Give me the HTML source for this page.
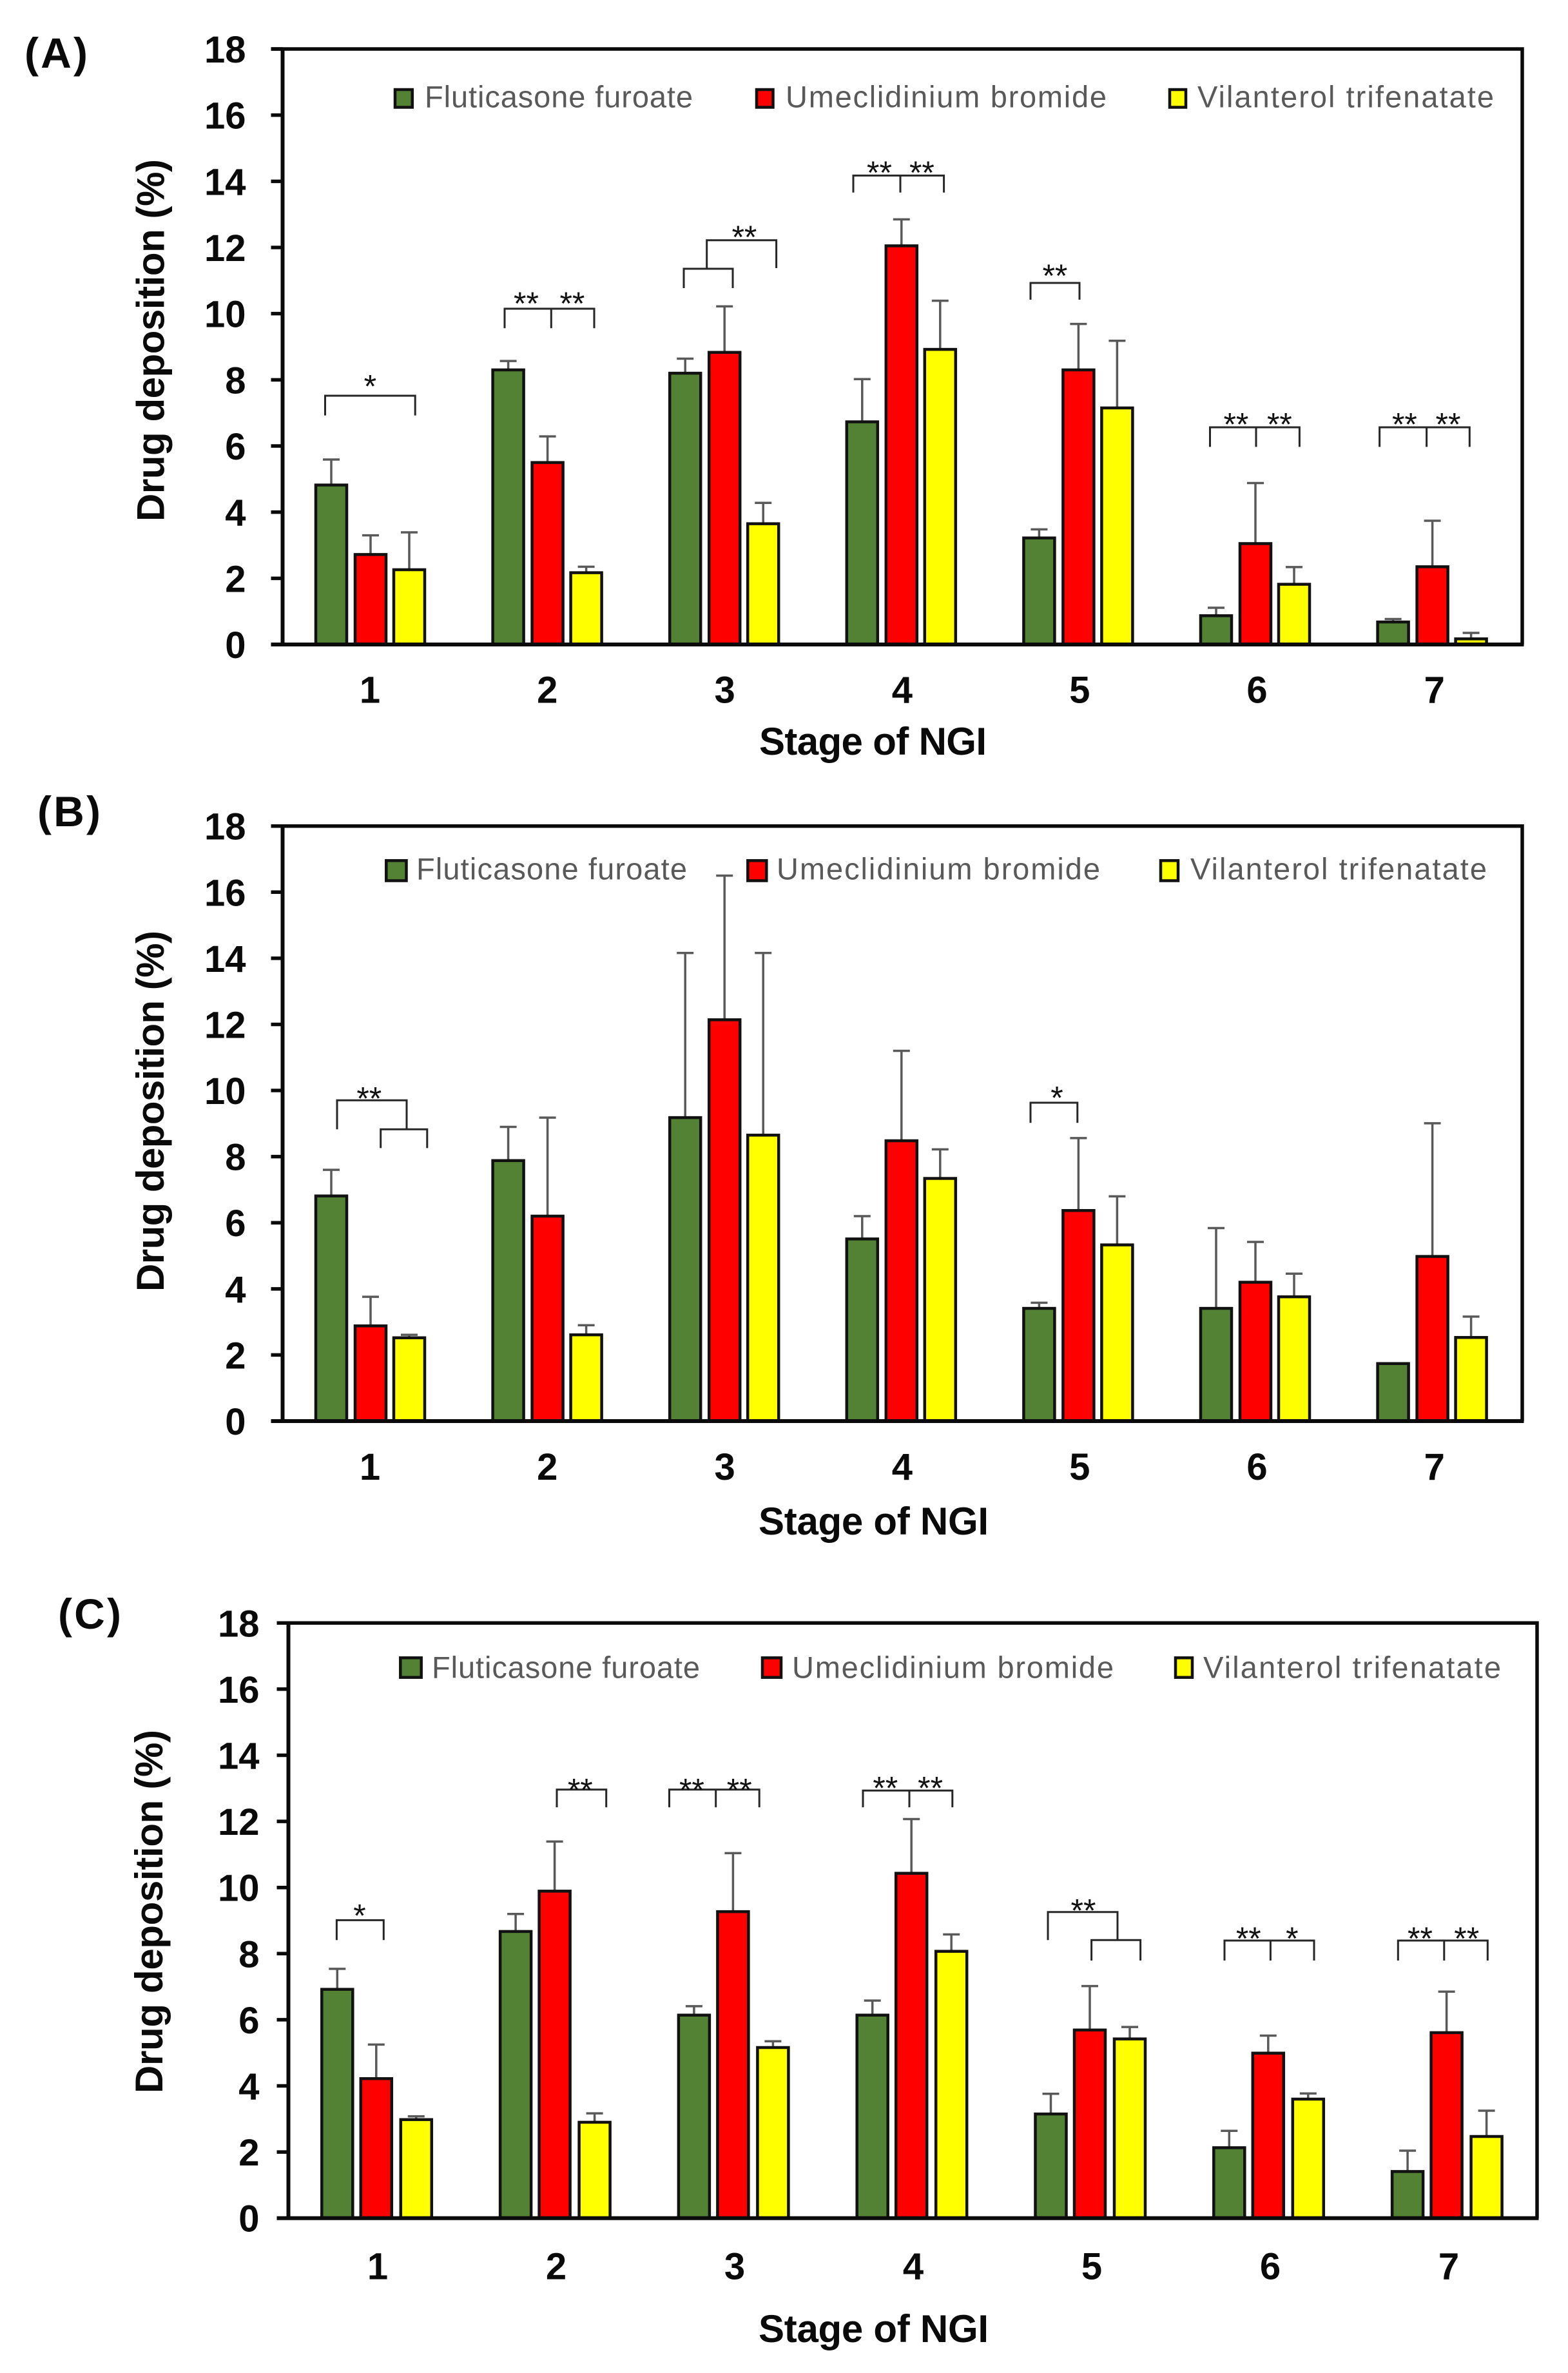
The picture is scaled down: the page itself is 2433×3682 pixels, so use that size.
<!DOCTYPE html>
<html lang="en">
<head>
<meta charset="utf-8">
<title>Drug deposition by stage of NGI</title>
<style>
html,body{margin:0;padding:0;background:#fff;width:2433px;height:3682px;overflow:hidden}
svg{display:block}
text{font-family:"Liberation Sans",sans-serif}
.tick{font-size:58px;font-weight:700;fill:#0a0a0a}
.title{font-size:60px;font-weight:700;fill:#0a0a0a}
.letter{font-size:66px;font-weight:700;fill:#0a0a0a}
.legend{font-size:47px;fill:#595959}
.br path{fill:none;stroke:#262626;stroke-width:3}
.star{font-size:50px;fill:#111;text-anchor:middle}
.swatch{stroke:#111;stroke-width:4.5}
</style>
</head>
<body>
<svg id="figure" xmlns="http://www.w3.org/2000/svg" width="2433" height="3682" viewBox="0 0 2433 3682">
<rect width="2433" height="3682" fill="#fff"/>

<!-- Panel A -->
<g id="panel-a">
  <text class="letter" x="38" y="105" textLength="98">(A)</text>
  <text class="title" transform="translate(254.6,528) rotate(-90)" text-anchor="middle" textLength="562">Drug deposition (%)</text>
  <text class="title" x="1178" y="1171" textLength="353">Stage of NGI</text>
  <g>
    <rect class="swatch" x="613" y="139" width="26.8" height="27.5" fill="#548235"/>
    <text class="legend" x="659" y="166.5" textLength="416">Fluticasone furoate</text>
    <rect class="swatch" x="1174" y="139" width="25.5" height="27.5" fill="#ff0000"/>
    <text class="legend" x="1219" y="166.5" textLength="498">Umeclidinium bromide</text>
    <rect class="swatch" x="1815" y="139" width="25" height="27.5" fill="#ffff00"/>
    <text class="legend" x="1858" y="166.5" textLength="460">Vilanterol trifenatate</text>
  </g>
  <g class="br">
    <path d="M504.5 644.6V614H644.2V644.6"/>
    <text class="star" x="574.4" y="616.5">*</text>
    <path d="M783 509.3V479H922V509.3M855.3 479V509.3"/>
    <text class="star" x="816.5" y="488">**</text><text class="star" x="887.9" y="488">**</text>
    <path d="M1061 447V417H1137V447"/>
    <path d="M1096.7 417V372.7H1204.6V416"/>
    <text class="star" x="1154.9" y="385">**</text>
    <path d="M1324 298.7V272.4H1464.6V298.7M1397 272.4V298.7"/>
    <text class="star" x="1364.5" y="285">**</text><text class="star" x="1430.4" y="285">**</text>
    <path d="M1599 465V439H1675V465"/>
    <text class="star" x="1636.9" y="445">**</text>
    <path d="M1877.5 693.4V663H2016.4V693.4M1949 663V693.4"/>
    <text class="star" x="1917.9" y="675.6">**</text><text class="star" x="1985.4" y="675.6">**</text>
    <path d="M2140.6 693.4V663H2280.3V693.4M2213.6 663V693.4"/>
    <text class="star" x="2179.4" y="675.6">**</text><text class="star" x="2247" y="675.6">**</text>
  </g>
</g>

<!-- Panel B -->
<g id="panel-b">
  <text class="letter" x="58" y="1282" textLength="98">(B)</text>
  <text class="title" transform="translate(253.8,1724) rotate(-90)" text-anchor="middle" textLength="560">Drug deposition (%)</text>
  <text class="title" x="1177" y="2381" textLength="357">Stage of NGI</text>
  <g>
    <rect class="swatch" x="599.3" y="1335.3" width="31.2" height="31.2" fill="#548235"/>
    <text class="legend" x="646" y="1364.7" textLength="420">Fluticasone furoate</text>
    <rect class="swatch" x="1160.3" y="1335.3" width="29" height="31.2" fill="#ff0000"/>
    <text class="legend" x="1205" y="1364.7" textLength="502">Umeclidinium bromide</text>
    <rect class="swatch" x="1801" y="1335.3" width="27" height="31.2" fill="#ffff00"/>
    <text class="legend" x="1847" y="1364.7" textLength="460">Vilanterol trifenatate</text>
  </g>
  <g class="br">
    <path d="M523 1752.3V1707.2H631V1752.3"/>
    <path d="M590.7 1781.4V1752.3H662.8V1781.4"/>
    <text class="star" x="572.8" y="1721.3">**</text>
    <path d="M1599 1742.3V1711H1671.8V1742.3"/>
    <text class="star" x="1640" y="1720.3">*</text>
  </g>
</g>

<!-- Panel C -->
<g id="panel-c">
  <text class="letter" x="90" y="2527" textLength="98">(C)</text>
  <text class="title" transform="translate(252,2966) rotate(-90)" text-anchor="middle" textLength="564">Drug deposition (%)</text>
  <text class="title" x="1177" y="3634" textLength="357">Stage of NGI</text>
  <g>
    <rect class="swatch" x="621.3" y="2572.3" width="32.4" height="30.4" fill="#548235"/>
    <text class="legend" x="670" y="2603.5" textLength="416">Fluticasone furoate</text>
    <rect class="swatch" x="1183" y="2572.3" width="29" height="30.4" fill="#ff0000"/>
    <text class="legend" x="1229" y="2603.5" textLength="499">Umeclidinium bromide</text>
    <rect class="swatch" x="1824" y="2572.3" width="26" height="30.4" fill="#ffff00"/>
    <text class="legend" x="1867" y="2603.5" textLength="462">Vilanterol trifenatate</text>
  </g>
  <g class="br">
    <path d="M522.4 3010.3V2979.4H595.3V3010.3"/>
    <text class="star" x="558" y="2989.3">*</text>
    <path d="M864 2804.3V2776.7H940.7V2804.3"/>
    <text class="star" x="900.3" y="2794.5">**</text>
    <path d="M1038.5 2804.3V2776.7H1178.2V2804.3M1110.7 2776.7V2804.3"/>
    <text class="star" x="1073.4" y="2794.5">**</text><text class="star" x="1147.2" y="2794.5">**</text>
    <path d="M1339 2804.3V2778.2H1477.8V2804.3M1411 2778.2V2804.3"/>
    <text class="star" x="1373.8" y="2791.4">**</text><text class="star" x="1443.6" y="2791.4">**</text>
    <path d="M1626 3010.3V2966.7H1734V3010.3"/>
    <path d="M1693.6 3042V3010.3H1769.6V3042"/>
    <text class="star" x="1681" y="2981.5">**</text>
    <path d="M1900 3042V3011H2039V3042M1971.4 3011V3042"/>
    <text class="star" x="1937.3" y="3025">**</text><text class="star" x="2004.8" y="3025">*</text>
    <path d="M2169.3 3042V3011H2308.3V3042M2240.8 3011V3042"/>
    <text class="star" x="2203.5" y="3025">**</text><text class="star" x="2275.7" y="3025">**</text>
  </g>
</g>
</svg>

<script>
// ---- chart data ----
const stages = ["1", "2", "3", "4", "5", "6", "7"];
const yTicks = [0, 2, 4, 6, 8, 10, 12, 14, 16, 18];
const yMax = 18;

const aFluticasone = [4.82, 8.30, 8.20, 6.73, 3.22, 0.87, 0.68];
const aFluticasoneUpper = [5.59, 8.57, 8.64, 8.02, 3.48, 1.11, 0.77];
const aUmeclidinium = [2.72, 5.50, 8.83, 12.05, 8.30, 3.05, 2.35];
const aUmeclidiniumUpper = [3.30, 6.29, 10.22, 12.85, 9.69, 4.88, 3.74];
const aVilanterol = [2.26, 2.17, 3.65, 8.92, 7.15, 1.82, 0.17];
const aVilanterolUpper = [3.39, 2.35, 4.28, 10.39, 9.18, 2.34, 0.35];

const bFluticasone = [6.81, 7.88, 9.18, 5.51, 3.41, 3.41, 1.74];
const bFluticasoneUpper = [7.60, 8.90, 14.16, 6.20, 3.58, 5.84, 1.75];
const bUmeclidinium = [2.88, 6.20, 12.14, 8.48, 6.37, 4.20, 4.98];
const bUmeclidiniumUpper = [3.76, 9.18, 16.50, 11.20, 8.56, 5.42, 9.01];
const bVilanterol = [2.52, 2.61, 8.65, 7.34, 5.33, 3.76, 2.53];
const bVilanterolUpper = [2.61, 2.90, 14.16, 8.22, 6.80, 4.46, 3.16];

const cFluticasone = [6.92, 8.67, 6.14, 6.14, 3.15, 2.13, 1.41];
const cFluticasoneUpper = [7.54, 9.20, 6.41, 6.58, 3.76, 2.64, 2.04];
const cUmeclidinium = [4.22, 9.89, 9.27, 10.43, 5.69, 4.99, 5.61];
const cUmeclidiniumUpper = [5.25, 11.39, 11.04, 12.07, 7.02, 5.52, 6.85];
const cVilanterol = [2.98, 2.90, 5.16, 8.07, 5.42, 3.60, 2.47];
const cVilanterolUpper = [3.08, 3.17, 5.35, 8.58, 5.78, 3.77, 3.25];

// ---- layout (not data) ----
const SVGNS = "http://www.w3.org/2000/svg";
const barW = 48;
const capW = 26;
const seriesColor = ["#548235", "#ff0000", "#ffff00"];
const seriesSlug = ["fluticasone", "umeclidinium", "vilanterol"];

function mk(tag, attrs, parent) {
  const el = document.createElementNS(SVGNS, tag);
  for (const k in attrs) el.setAttribute(k, attrs[k]);
  parent.appendChild(el);
  return el;
}

function drawPanel(panelId, box, series) {
  const root = document.getElementById(panelId);
  const y = v => box.bottom - (v / yMax) * (box.bottom - box.top);
  const x = i => box.first + box.step * i;
  const lx = i => box.labelFirst + box.labelStep * i;

  // error bars first so the bars hide their lower part
  series.forEach((s, si) => {
    s.mean.forEach((m, i) => {
      const cx = x(i) + box.offsets[si];
      const g = mk("g", {}, root);
      
      
      mk("path", {
        d: "M" + cx + " " + y(m) + "V" + y(s.upper[i]) + "M" + (cx - capW / 2) + " " + y(s.upper[i]) + "H" + (cx + capW / 2),
        fill: "none", stroke: "#595959", "stroke-width": 3.5
      }, g);
    });
  });

  series.forEach((s, si) => {
    s.mean.forEach((m, i) => {
      const cx = x(i) + box.offsets[si];
      const bar = mk("rect", {
        x: cx - barW / 2, y: y(m), width: barW, height: y(0) - y(m),
        fill: seriesColor[si], stroke: "#111", "stroke-width": 4.5
      }, root);
      
      
    });
  });

  // frame and axes
  const frame = mk("path", {
    d: "M" + (box.left - 18) + " " + box.top + "H" + box.right + "V" + box.bottom,
    fill: "none", stroke: "#0a0a0a", "stroke-width": 5.5
  }, root);
  
  

  const yAxis = mk("line", {
    x1: box.left, x2: box.left, y1: box.top, y2: box.bottom,
    stroke: "#0a0a0a", "stroke-width": 6
  }, root);
  
  

  const xAxis = mk("line", {
    x1: box.left - 18, x2: box.right + 2.5, y1: box.bottom, y2: box.bottom,
    stroke: "#0a0a0a", "stroke-width": 6
  }, root);
  
  

  yTicks.forEach(t => {
    const tm = mk("line", {
      x1: box.left - 18, x2: box.left, y1: y(t), y2: y(t),
      stroke: "#0a0a0a", "stroke-width": 5.5
    }, root);
    
    
    const lb = mk("text", {
      class: "tick", x: box.left - box.labelGap, y: y(t) + 21, "text-anchor": "end"
    }, root);
    
    
    lb.textContent = t;
  });

  stages.forEach((st, i) => {
    const lb = mk("text", {
      class: "tick", x: lx(i), y: box.labelBaseline, "text-anchor": "middle"
    }, root);
    
    
    lb.textContent = st;
  });
}

drawPanel("panel-a",
  { left: 438.5, right: 2362, top: 76, bottom: 1000, first: 575, step: 274.6,
    offsets: [-61, 0, 60], labelFirst: 574, labelStep: 275.3, labelBaseline: 1090.5, labelGap: 57 },
  [
    { mean: aFluticasone, upper: aFluticasoneUpper },
    { mean: aUmeclidinium, upper: aUmeclidiniumUpper },
    { mean: aVilanterol, upper: aVilanterolUpper }
  ]);
drawPanel("panel-b",
  { left: 438.5, right: 2362, top: 1281.7, bottom: 2205, first: 575, step: 274.6,
    offsets: [-61, 0, 60], labelFirst: 574, labelStep: 275.3, labelBaseline: 2296, labelGap: 57 },
  [
    { mean: bFluticasone, upper: bFluticasoneUpper },
    { mean: bUmeclidinium, upper: bUmeclidiniumUpper },
    { mean: bVilanterol, upper: bVilanterolUpper }
  ]);
drawPanel("panel-c",
  { left: 447.5, right: 2385, top: 2518.3, bottom: 3441.7, first: 583.8, step: 276.8,
    offsets: [-60.5, 0, 62], labelFirst: 586, labelStep: 277, labelBaseline: 3536.5, labelGap: 45 },
  [
    { mean: cFluticasone, upper: cFluticasoneUpper },
    { mean: cUmeclidinium, upper: cUmeclidiniumUpper },
    { mean: cVilanterol, upper: cVilanterolUpper }
  ]);
</script>
</body>
</html>
